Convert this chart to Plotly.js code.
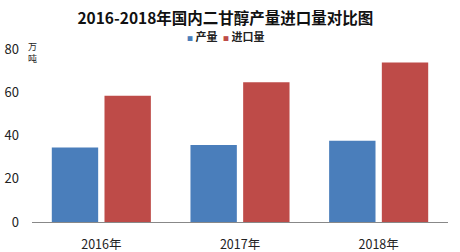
<!DOCTYPE html>
<html><head><meta charset="utf-8">
<script src="https://cdn.plot.ly/plotly-3.0.1.min.js"></script>
<style>html,body{margin:0;padding:0;background:#fff}</style>
</head><body>
<div id="chart" style="width:460px;height:252px"></div>
<script>
const categories = ["2016年", "2017年", "2018年"];
const production = [34.5, 35.6, 37.6];
const imports = [58.4, 64.6, 73.8];
const yTicks = [0, 20, 40, 60, 80];
const seriesNames = ["产量", "进口量"];
const colors = ['#4A7EBB', '#BE4B48'];

const FONT = '"Noto Sans CJK SC", "Noto Sans", sans-serif';
const data = [
  {type: 'bar', name: seriesNames[0], x: categories, y: production, marker: {color: colors[0]}, showlegend: false},
  {type: 'bar', name: seriesNames[1], x: categories, y: imports, marker: {color: colors[1]}, showlegend: false}
];
function legendText(i) {
  return '<span style="color:' + colors[i] + ';font-size:6px">■</span> ' + seriesNames[i];
}
const layout = {
  width: 460, height: 252,
  margin: {l: 32, r: 12, t: 49, b: 30},
  paper_bgcolor: '#fff', plot_bgcolor: '#fff',
  font: {family: FONT, color: '#222', size: 12},
  title: {text: '<b>2016-2018年国内二甘醇产量进口量对比图</b>', font: {size: 15.5, family: FONT, color: '#111'},
          x: 0.49, xanchor: 'center', y: 0.925, yanchor: 'middle'},
  barmode: 'group', bargap: 0.24, bargroupgap: 0.12,
  showlegend: false,
  xaxis: {showline: true, linecolor: '#888', linewidth: 1, ticks: '', showgrid: false, ticklabelstandoff: 11,
          tickfont: {size: 12.5, family: FONT, color: '#222'}},
  yaxis: {range: [0, 80], tickvals: yTicks, showgrid: false, zeroline: false, showline: false,
          ticks: '', ticklabelstandoff: 12, tickfont: {size: 13, family: FONT, color: '#222'}},
  annotations: [
    {text: '万<br>吨', xref: 'paper', yref: 'paper', x: 0.0, y: 1.065, xanchor: 'center', yanchor: 'top',
     showarrow: false, font: {size: 9, family: FONT, color: '#222'}},
    {text: '<b>' + legendText(0) + '</b>', xref: 'paper', yref: 'paper', x: 0.368, y: 1.075, xanchor: 'left', yanchor: 'middle',
     showarrow: false, font: {size: 11, family: FONT, color: '#222'}},
    {text: '<b>' + legendText(1) + '</b>', xref: 'paper', yref: 'paper', x: 0.455, y: 1.075, xanchor: 'left', yanchor: 'middle',
     showarrow: false, font: {size: 11, family: FONT, color: '#222'}}
  ]
};
Plotly.newPlot('chart', data, layout, {displayModeBar: false, staticPlot: true});
</script>
</body></html>
